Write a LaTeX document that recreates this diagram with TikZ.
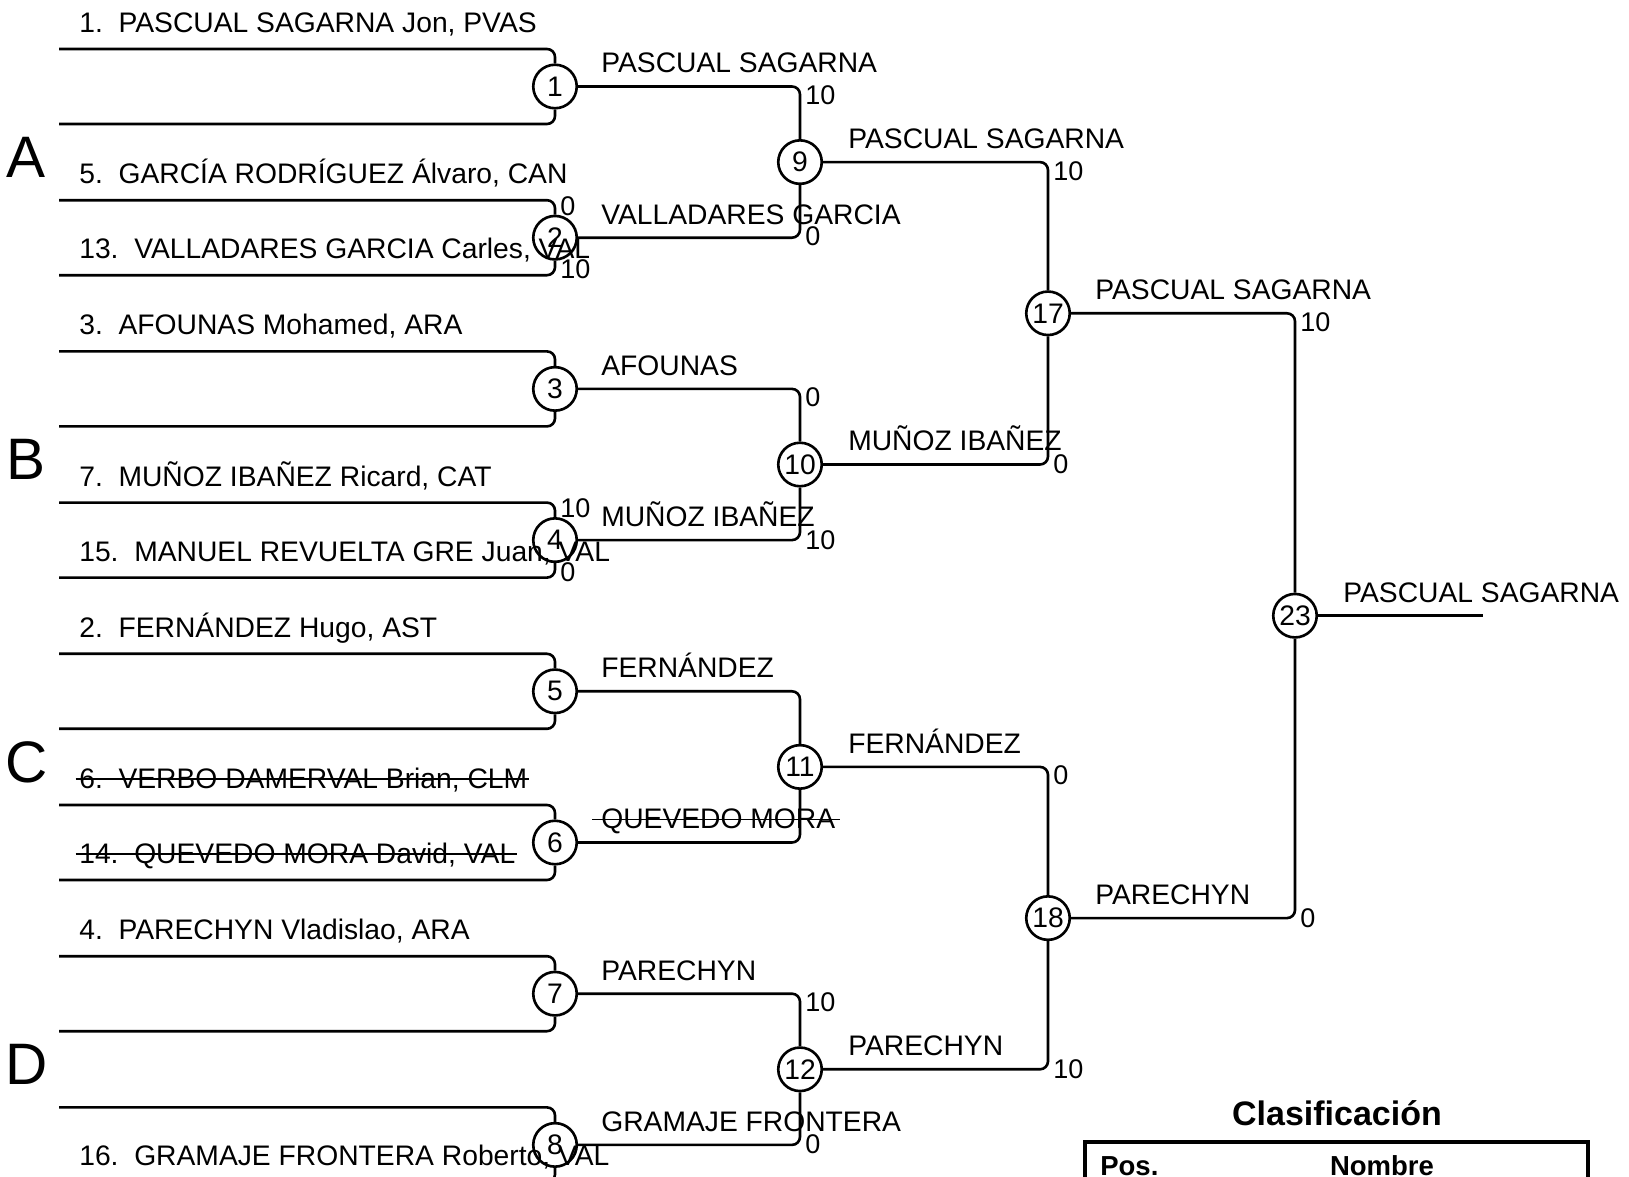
\documentclass[tikz,border=0pt]{standalone}
\usepackage{fontspec}
\setmainfont{Liberation Sans}
\usetikzlibrary{calc}

\begin{document}
\begin{tikzpicture}[x=0.4pt, y=-0.4pt, line width=1.05pt,
      game/.style={draw, circle, minimum size=17.4pt, inner sep=0pt, font=\fontsize{11.3}{12}\selectfont},
      who/.style={anchor=base west, inner sep=0pt, font=\fontsize{11.3}{13}\selectfont},
      pts/.style={anchor=base west, inner sep=0pt, font=\fontsize{10.8}{12}\selectfont},
      pool/.style={inner sep=0pt, font=\fontsize{23.4}{26}\selectfont},
      wire/.style={rounded corners=3.2pt},
      cross/.style={line width=.6pt},
      head/.style={inner sep=0pt, font=\fontsize{11}{13}\selectfont\bfseries}]

      \useasboundingbox (0,0) rectangle (1629,1177);
      \clip (0,0) rectangle (1629,1177);

      \node[pool] (gA) at (26.5,157.1) {A};
      \node[pool] (gB) at (26.5,459.5) {B};
      \node[pool] (gC) at (26.5,761.9) {C};
      \node[pool] (gD) at (26.5,1064.3) {D};

      \node[game] (m1) at (555,86.5) {1};
      \node[game] (m2) at (555,237.7) {2};
      \node[game] (m3) at (555,388.9) {3};
      \node[game] (m4) at (555,540.1) {4};
      \node[game] (m5) at (555,691.3) {5};
      \node[game] (m6) at (555,842.5) {6};
      \node[game] (m7) at (555,993.7) {7};
      \node[game] (m8) at (555,1144.9) {8};
      \node[game] (m9) at (800,162.1) {9};
      \node[game] (m10) at (800,464.5) {10};
      \node[game] (m11) at (800,766.9) {11};
      \node[game] (m12) at (800,1069.3) {12};
      \node[game] (m17) at (1048,313.3) {17};
      \node[game] (m18) at (1048,918.1) {18};
      \node[game] (m23) at (1295,615.7) {23};

      \coordinate (s1a) at (59,49); \coordinate (s1b) at (59,124);
      \coordinate (s2a) at (59,200.2); \coordinate (s2b) at (59,275.2);
      \coordinate (s3a) at (59,351.4); \coordinate (s3b) at (59,426.4);
      \coordinate (s4a) at (59,502.6); \coordinate (s4b) at (59,577.6);
      \coordinate (s5a) at (59,653.8); \coordinate (s5b) at (59,728.8);
      \coordinate (s6a) at (59,805); \coordinate (s6b) at (59,880);
      \coordinate (s7a) at (59,956.2); \coordinate (s7b) at (59,1031.2);
      \coordinate (s8a) at (59,1107.4); \coordinate (s8b) at (59,1182.4);
      \draw[wire] (s1a) -| (m1); \draw[wire] (s1b) -| (m1);
      \draw[wire] (s2a) -| (m2); \draw[wire] (s2b) -| (m2);
      \draw[wire] (s3a) -| (m3); \draw[wire] (s3b) -| (m3);
      \draw[wire] (s4a) -| (m4); \draw[wire] (s4b) -| (m4);
      \draw[wire] (s5a) -| (m5); \draw[wire] (s5b) -| (m5);
      \draw[wire] (s6a) -| (m6); \draw[wire] (s6b) -| (m6);
      \draw[wire] (s7a) -| (m7); \draw[wire] (s7b) -| (m7);
      \draw[wire] (s8a) -| (m8); \draw[wire] (s8b) -| (m8);

      \node[who] (n1) at (78,32.5) {1.~~PASCUAL SAGARNA Jon, PVAS};
      \node[who] (n5) at (78,183.7) {5.~~GARCÍA RODRÍGUEZ Álvaro, CAN};
      \node[who] (n13) at (78,258.7) {13.~~VALLADARES GARCIA Carles, VAL};
      \node[who] (n3) at (78,334.9) {3.~~AFOUNAS Mohamed, ARA};
      \node[who] (n7) at (78,486.1) {7.~~MUÑOZ IBAÑEZ Ricard, CAT};
      \node[who] (n15) at (78,561.1) {15.~~MANUEL REVUELTA GRE Juan, VAL};
      \node[who] (n2) at (78,637.3) {2.~~FERNÁNDEZ Hugo, AST};
      \node[who] (n6) at (78,788.5) {6.~~VERBO DAMERVAL Brian, CLM};
      \node[who] (n14) at (78,863.5) {14.~~QUEVEDO MORA David, VAL};
      \node[who] (n4) at (78,939.7) {4.~~PARECHYN Vladislao, ARA};
      \node[who] (n16) at (78,1165.9) {16.~~GRAMAJE FRONTERA Roberto, VAL};
      \draw[cross] ([xshift=-1pt, yshift=3.8pt]n6.base west) -- ([yshift=3.8pt]n6.base east);
      \draw[cross] ([xshift=-1pt, yshift=3.8pt]n14.base west) -- ([yshift=3.8pt]n14.base east);

      \node[pts] (p5) at (559,215.2) {0};
      \node[pts] (p13) at (559,278.2) {10};
      \node[pts] (p7) at (559,517.6) {10};
      \node[pts] (p15) at (559,581.6) {0};

      \draw[wire] (m1) -| (m9); \draw[wire] (m2) -| (m9);
      \draw[wire] (m3) -| (m10); \draw[wire] (m4) -| (m10);
      \draw[wire] (m5) -| (m11); \draw[wire] (m6) -| (m11);
      \draw[wire] (m7) -| (m12); \draw[wire] (m8) -| (m12);
      \node[who] (w1) at (600,73) {PASCUAL SAGARNA};
      \node[who] (w2) at (600,224.2) {VALLADARES GARCIA};
      \node[who] (w3) at (600,375.4) {AFOUNAS};
      \node[who] (w4) at (600,526.6) {MUÑOZ IBAÑEZ};
      \node[who] (w5) at (600,677.8) {FERNÁNDEZ};
      \node[who] (w6) at (600,829) {QUEVEDO MORA};
      \node[who] (w7) at (600,980.2) {PARECHYN};
      \node[who] (w8) at (600,1131.4) {GRAMAJE FRONTERA};
      \draw[cross] ([xshift=-3.2pt, yshift=3.8pt]w6.base west) -- ([xshift=1.2pt, yshift=3.8pt]w6.base east);
      \node[pts] (q1) at (804,104.5) {10};
      \node[pts] (q2) at (804,245.7) {0};
      \node[pts] (q3) at (804,406.9) {0};
      \node[pts] (q4) at (804,549.1) {10};
      \node[pts] (q7) at (804,1011.7) {10};
      \node[pts] (q8) at (804,1153.9) {0};

      \draw[wire] (m9) -| (m17); \draw[wire] (m10) -| (m17);
      \draw[wire] (m11) -| (m18); \draw[wire] (m12) -| (m18);
      \node[who] (w9) at (847,148.6) {PASCUAL SAGARNA};
      \node[who] (w10) at (847,451) {MUÑOZ IBAÑEZ};
      \node[who] (w11) at (847,753.4) {FERNÁNDEZ};
      \node[who] (w12) at (847,1055.8) {PARECHYN};
      \node[pts] (q9) at (1052,180.1) {10};
      \node[pts] (q10) at (1052,473.5) {0};
      \node[pts] (q11) at (1052,784.9) {0};
      \node[pts] (q12) at (1052,1078.3) {10};

      \draw[wire] (m17) -| (m23); \draw[wire] (m18) -| (m23);
      \node[who] (w17) at (1094,299.8) {PASCUAL SAGARNA};
      \node[who] (w18) at (1094,904.6) {PARECHYN};
      \node[pts] (q17) at (1299,331.3) {10};
      \node[pts] (q18) at (1299,927.1) {0};

      \coordinate (champ) at (1483,615.7);
      \draw (m23) -- (champ);
      \node[who] (w23) at (1342,602.2) {PASCUAL SAGARNA};

      \node[inner sep=0pt, anchor=base, font=\fontsize{13.6}{16}\selectfont\bfseries] (title) at (1337,1126) {Clasificación};
      \draw[line width=1.9pt] (1085,1142) rectangle (1588,1260);
      \node[head, anchor=base west] (hpos) at (1099,1175.5) {Pos.};
      \node[head, anchor=base] (hname) at (1382,1175.5) {Nombre};
\end{tikzpicture}
\end{document}
